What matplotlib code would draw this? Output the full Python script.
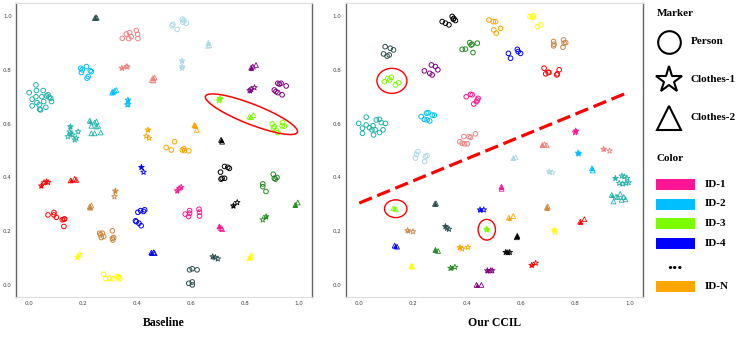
import matplotlib
matplotlib.use("Agg")
import matplotlib.pyplot as plt
from matplotlib.patches import Ellipse, Rectangle

# ---------------- colours ----------------
C = {
    "lightcoral": "#F08080", "lightblue": "#ADD8E6", "darkslategray": "#2F4F4F",
    "lightseagreen": "#20B2AA", "deepskyblue": "#00BFFF", "purple": "#800080",
    "lawngreen": "#7CFC00", "orange": "#FFA500", "black": "#000000",
    "blue": "#0000FF", "red": "#FF0000", "peru": "#CD853F", "deeppink": "#FF1493",
    "yellow": "#FFFF00", "green": "#228B22",
}

ticks = [0.0, 0.2, 0.4, 0.6, 0.8, 1.0]
tick_labels = ["0.0", "0.2", "0.4", "0.6", "0.8", "1.0"]
panel_titles = ["Baseline", "Our CCIL"]

# ---------------- Baseline: Person (circles) ----------------
base_person_colors = ["lightcoral", "lightblue", "deepskyblue", "lightseagreen", "purple",
                      "lawngreen", "orange", "black", "red", "peru", "blue", "yellow",
                      "deeppink", "darkslategray", "green"]
base_person_x = [
    [0.345, 0.360, 0.372, 0.369, 0.397, 0.402, 0.403, 0.378],
    [0.533, 0.549, 0.568, 0.574, 0.583, 0.570, 0.530],
    [0.190, 0.212, 0.226, 0.218, 0.214, 0.193, 0.196, 0.230],
    [-0.001, 0.024, 0.026, 0.010, 0.028, 0.051, 0.046, 0.063, 0.073, 0.082, 0.061, 0.038,
     0.036, 0.010, 0.024, 0.053, 0.069, 0.079, 0.041],
    [0.923, 0.929, 0.935, 0.954, 0.910, 0.923, 0.939, 0.916],
    [0.902, 0.907, 0.917, 0.923, 0.941, 0.947, 0.939, 0.910],
    [0.539, 0.508, 0.527, 0.568, 0.576, 0.592, 0.574],
    [0.710, 0.725, 0.737, 0.743, 0.712, 0.725, 0.716],
    [0.069, 0.091, 0.091, 0.100, 0.122, 0.128, 0.131, 0.128],
    [0.261, 0.264, 0.271, 0.276, 0.267, 0.308, 0.313, 0.310, 0.308],
    [0.394, 0.403, 0.413, 0.424, 0.428, 0.407, 0.415, 0.397],
    [0.276, 0.283, 0.325, 0.332, 0.310, 0.298, 0.335],
    [0.579, 0.591, 0.595, 0.595, 0.630, 0.632, 0.632],
    [0.595, 0.605, 0.623, 0.592, 0.605, 0.605],
    [0.867, 0.867, 0.879, 0.906, 0.910, 0.920, 0.914],
]
base_person_y = [
    [0.917, 0.933, 0.938, 0.916, 0.946, 0.932, 0.916, 0.923],
    [0.969, 0.950, 0.988, 0.983, 0.973, 0.977, 0.963],
    [0.806, 0.812, 0.797, 0.775, 0.769, 0.790, 0.800, 0.793],
    [0.715, 0.744, 0.723, 0.691, 0.678, 0.723, 0.700, 0.703, 0.698, 0.682, 0.661, 0.653,
     0.670, 0.666, 0.700, 0.682, 0.707, 0.694, 0.651],
    [0.750, 0.747, 0.750, 0.740, 0.725, 0.715, 0.707, 0.719],
    [0.599, 0.583, 0.574, 0.567, 0.604, 0.591, 0.591, 0.589],
    [0.533, 0.512, 0.502, 0.502, 0.500, 0.499, 0.507],
    [0.420, 0.441, 0.438, 0.434, 0.394, 0.397, 0.397],
    [0.261, 0.270, 0.261, 0.252, 0.243, 0.245, 0.246, 0.218],
    [0.193, 0.187, 0.193, 0.181, 0.177, 0.202, 0.177, 0.168, 0.174],
    [0.239, 0.271, 0.277, 0.274, 0.280, 0.230, 0.221, 0.236],
    [0.041, 0.024, 0.032, 0.030, 0.024, 0.026, 0.024],
    [0.264, 0.255, 0.277, 0.267, 0.282, 0.271, 0.257],
    [0.057, 0.061, 0.057, 0.007, 0.001, 0.012],
    [0.376, 0.366, 0.348, 0.412, 0.397, 0.400, 0.394],
]

# ---------------- Baseline: Clothes-1 (stars) ----------------
base_c1_colors = ["lightblue", "lightcoral", "deepskyblue", "lightseagreen", "purple",
                  "lawngreen", "orange", "blue", "red", "peru", "yellow", "deeppink",
                  "darkslategray", "black", "green"]
base_c1_x = [
    [0.567, 0.568, 0.567], [0.343, 0.360, 0.364], [0.366, 0.364, 0.367],
    [0.152, 0.150, 0.143, 0.153, 0.168, 0.181, 0.174, 0.160],
    [0.818, 0.824, 0.836], [0.709, 0.704, 0.707], [0.440, 0.434, 0.444],
    [0.416, 0.424], [0.044, 0.054, 0.063, 0.069], [0.319, 0.316], [0.178, 0.187],
    [0.549, 0.558, 0.564], [0.681, 0.691, 0.700], [0.758, 0.772], [0.879, 0.867],
]
base_c1_y = [
    [0.833, 0.812, 0.806], [0.806, 0.812, 0.811], [0.688, 0.670, 0.672],
    [0.589, 0.570, 0.552, 0.562, 0.540, 0.570, 0.546, 0.558],
    [0.723, 0.728, 0.734], [0.691, 0.686, 0.694], [0.577, 0.554, 0.546],
    [0.438, 0.420], [0.369, 0.381, 0.384, 0.382], [0.350, 0.329], [0.104, 0.114],
    [0.351, 0.360, 0.364], [0.106, 0.103, 0.098], [0.295, 0.307], [0.255, 0.243],
]

# ---------------- Baseline: Clothes-2 (triangles) ----------------
base_c2_colors = ["darkslategray", "lightblue", "lightcoral", "deepskyblue", "lightseagreen",
                  "purple", "lawngreen", "orange", "black", "red", "peru", "blue",
                  "deeppink", "yellow", "green"]
base_c2_x = [
    [0.243, 0.247, 0.250], [0.665, 0.669, 0.663], [0.459, 0.461, 0.455, 0.465],
    [0.310, 0.323, 0.307, 0.317],
    [0.224, 0.249, 0.230, 0.249, 0.255, 0.242, 0.230, 0.242, 0.265],
    [0.824, 0.842, 0.830], [0.818, 0.832, 0.824], [0.613, 0.622, 0.617],
    [0.712, 0.716], [0.153, 0.168, 0.174], [0.224, 0.230, 0.226],
    [0.453, 0.461, 0.465], [0.706, 0.712, 0.716], [0.820, 0.825, 0.817], [0.988, 0.997],
]
base_c2_y = [
    [0.992, 0.995, 0.993], [0.901, 0.892, 0.889], [0.769, 0.760, 0.762, 0.771],
    [0.719, 0.725, 0.715, 0.722],
    [0.611, 0.608, 0.592, 0.589, 0.592, 0.604, 0.564, 0.564, 0.567],
    [0.808, 0.818, 0.812], [0.626, 0.632, 0.624], [0.595, 0.577, 0.591],
    [0.540, 0.533], [0.389, 0.395, 0.391], [0.292, 0.296, 0.288],
    [0.121, 0.122, 0.119], [0.218, 0.212, 0.208], [0.104, 0.113, 0.100], [0.298, 0.307],
]

# ---------------- CCIL: Person (circles) ----------------
ccil_person_colors = ["black", "orange", "yellow", "darkslategray", "green", "blue", "peru",
                      "purple", "lawngreen", "red", "deeppink", "lightseagreen",
                      "deepskyblue", "lightcoral", "lightblue"]
ccil_person_x = [
    [0.307, 0.319, 0.332, 0.344, 0.348, 0.356, 0.350],
    [0.480, 0.496, 0.505, 0.498, 0.507, 0.523],
    [0.632, 0.641, 0.644, 0.659, 0.672],
    [0.096, 0.115, 0.127, 0.090, 0.103, 0.111],
    [0.381, 0.393, 0.409, 0.414, 0.418, 0.437, 0.421],
    [0.552, 0.560, 0.585, 0.588, 0.597],
    [0.719, 0.721, 0.719, 0.756, 0.764, 0.754, 0.758],
    [0.241, 0.267, 0.282, 0.291, 0.261, 0.270],
    [0.093, 0.106, 0.119, 0.134, 0.146, 0.113],
    [0.684, 0.690, 0.699, 0.702, 0.733, 0.740, 0.731],
    [0.396, 0.412, 0.418, 0.424, 0.437, 0.440, 0.434],
    [-0.002, 0.026, 0.026, 0.012, 0.012, 0.051, 0.047, 0.063, 0.075, 0.082, 0.097, 0.088,
     0.075, 0.053, 0.059, 0.038],
    [0.229, 0.249, 0.255, 0.270, 0.278, 0.241, 0.261, 0.251],
    [0.372, 0.381, 0.390, 0.400, 0.387, 0.406, 0.412, 0.430],
    [0.212, 0.217, 0.245, 0.251, 0.242, 0.208],
]
ccil_person_y = [
    [0.979, 0.973, 0.967, 0.998, 0.988, 0.983, 0.991],
    [0.985, 0.979, 0.979, 0.948, 0.936, 0.954],
    [0.998, 0.995, 1.000, 0.960, 0.967],
    [0.886, 0.880, 0.874, 0.859, 0.851, 0.855],
    [0.876, 0.877, 0.901, 0.892, 0.895, 0.899, 0.864],
    [0.861, 0.843, 0.876, 0.868, 0.861],
    [0.905, 0.895, 0.889, 0.911, 0.901, 0.884, 0.899],
    [0.796, 0.818, 0.812, 0.800, 0.787, 0.781],
    [0.756, 0.768, 0.772, 0.744, 0.752, 0.762],
    [0.806, 0.785, 0.791, 0.790, 0.785, 0.800, 0.781],
    [0.700, 0.709, 0.707, 0.673, 0.688, 0.694, 0.682],
    [0.601, 0.624, 0.595, 0.583, 0.564, 0.592, 0.577, 0.614, 0.616, 0.604, 0.601, 0.577,
     0.567, 0.558, 0.577, 0.585],
    [0.626, 0.639, 0.641, 0.632, 0.631, 0.616, 0.610, 0.614],
    [0.533, 0.527, 0.525, 0.525, 0.552, 0.552, 0.549, 0.562],
    [0.486, 0.496, 0.478, 0.481, 0.459, 0.472],
]

# ---------------- CCIL: Clothes-1 (stars) ----------------
ccil_c1_colors = ["deeppink", "lightcoral", "deepskyblue", "lightblue", "lightseagreen",
                  "yellow", "black", "red", "blue", "peru", "darkslategray", "lawngreen",
                  "orange", "green", "purple"]
ccil_c1_x = [
    [0.801, 0.799], [0.904, 0.926], [0.810, 0.812], [0.703, 0.715],
    [0.948, 0.972, 0.981, 0.991, 0.962, 0.975, 0.987, 0.997],
    [0.721, 0.724], [0.542, 0.550, 0.557], [0.638, 0.653], [0.447, 0.461],
    [0.179, 0.199], [0.319, 0.325, 0.332], [0.471, 0.473], [0.372, 0.381, 0.402],
    [0.338, 0.354], [0.474, 0.486, 0.492],
]
ccil_c1_y = [
    [0.573, 0.567], [0.505, 0.499], [0.491, 0.488], [0.422, 0.418],
    [0.397, 0.406, 0.403, 0.397, 0.379, 0.376, 0.379, 0.381],
    [0.205, 0.197], [0.122, 0.121, 0.122], [0.074, 0.082], [0.280, 0.280],
    [0.203, 0.199], [0.218, 0.212, 0.208], [0.208, 0.206], [0.140, 0.135, 0.141],
    [0.063, 0.067], [0.054, 0.054, 0.054],
]

# ---------------- CCIL: Clothes-2 (triangles) ----------------
ccil_c2_colors = ["lightcoral", "lightblue", "deepskyblue", "lightseagreen", "deeppink",
                  "peru", "orange", "red", "black", "lawngreen", "darkslategray", "blue",
                  "green", "yellow", "purple"]
ccil_c2_x = [
    [0.678, 0.686, 0.694], [0.570, 0.579], [0.861, 0.864],
    [0.934, 0.941, 0.950, 0.966, 0.971, 0.979, 0.985, 0.956],
    [0.526, 0.527], [0.694, 0.698], [0.554, 0.570], [0.818, 0.833], [0.585, 0.583],
    [0.127, 0.136], [0.280, 0.284], [0.131, 0.140], [0.282, 0.292], [0.193, 0.196],
    [0.434, 0.452],
]
ccil_c2_y = [
    [0.521, 0.523, 0.520], [0.472, 0.475], [0.434, 0.426],
    [0.335, 0.311, 0.329, 0.339, 0.317, 0.327, 0.319, 0.327],
    [0.366, 0.358], [0.288, 0.292], [0.251, 0.257], [0.236, 0.245], [0.183, 0.178],
    [0.286, 0.282], [0.302, 0.304], [0.147, 0.143], [0.131, 0.127], [0.073, 0.069],
    [0.001, 0.001],
]

# ---------------- annotations ----------------
base_ellipse = dict(center=(0.825, 0.635), width=0.367, height=0.075, angle=-21.4)
ccil_ellipses = [((0.121, 0.759), 0.111, 0.093), ((0.135, 0.284), 0.083, 0.066),
                 ((0.472, 0.206), 0.064, 0.077)]
ccil_line_x = [0.0, 0.98]
ccil_line_y = [0.305, 0.710]

legend_markers = [("o", "Person"), ("*", "Clothes-1"), ("^", "Clothes-2")]
legend_ids = [("deeppink", "ID-1"), ("deepskyblue", "ID-2"), ("lawngreen", "ID-3"),
              ("blue", "ID-4"), ("orange", "ID-N")]

# ---------------- drawing ----------------
W, H = 747, 338
fig = plt.figure(figsize=(W / 100, H / 100), dpi=100)
SERIF = ["Liberation Serif", "DejaVu Serif"]

axes = [fig.add_axes([16 / W, (H - 297.3) / H, 296 / W, 294 / H]),
        fig.add_axes([345.7 / W, (H - 297.3) / H, 297.3 / W, 294 / H])]


def draw_group(ax, xs_list, ys_list, colors, marker, size, lw, fill_first):
    for xs, ys, cname in zip(xs_list, ys_list, colors):
        col = C[cname]
        ax.scatter(xs, ys, s=size, marker=marker, facecolors="none",
                   edgecolors=col, linewidths=lw, zorder=3)
        if fill_first:
            ax.scatter(xs[:1], ys[:1], s=size, marker=marker, color=col,
                       linewidths=0, zorder=3)


panels = [
    (base_person_x, base_person_y, base_person_colors,
     base_c1_x, base_c1_y, base_c1_colors, base_c2_x, base_c2_y, base_c2_colors),
    (ccil_person_x, ccil_person_y, ccil_person_colors,
     ccil_c1_x, ccil_c1_y, ccil_c1_colors, ccil_c2_x, ccil_c2_y, ccil_c2_colors),
]

for ax, data, title in zip(axes, panels, panel_titles):
    px, py, pc, sx, sy, sc, tx, ty, tc = data
    draw_group(ax, px, py, pc, "o", 11, 0.7, False)
    draw_group(ax, sx, sy, sc, "*", 18, 0.6, True)
    draw_group(ax, tx, ty, tc, "^", 12, 0.6, True)
    ax.set_xlim(-0.05, 1.05)
    ax.set_ylim(-0.045, 1.047)
    ax.set_xticks(ticks)
    ax.set_xticklabels(tick_labels)
    ax.set_yticks(ticks)
    ax.set_yticklabels(tick_labels)
    ax.tick_params(length=0, labelsize=4, labelcolor="#444444", pad=3)
    for side in ("left", "right"):
        ax.spines[side].set_color("#666666")
        ax.spines[side].set_linewidth(1.0)
    for side in ("top", "bottom"):
        ax.spines[side].set_color("#dddddd")
        ax.spines[side].set_linewidth(0.8)
    ax.text(0.5, -0.088, title, transform=ax.transAxes, ha="center", va="center",
            family=SERIF, fontweight="bold", fontsize=8.5)

axes[0].add_patch(Ellipse(base_ellipse["center"], base_ellipse["width"],
                          base_ellipse["height"], angle=base_ellipse["angle"],
                          fill=False, edgecolor="red", lw=1.1, zorder=4))
for (cx, cy), w, h in ccil_ellipses:
    axes[1].add_patch(Ellipse((cx, cy), w, h, fill=False, edgecolor="red", lw=1.0, zorder=4))
axes[1].plot(ccil_line_x, ccil_line_y, color="red", lw=2.3,
             linestyle=(0, (4.3, 1.8)), zorder=4)

# ---------------- legend panel ----------------
lg = fig.add_axes([0, 0, 1, 1], facecolor="none")
lg.set_xlim(0, W)
lg.set_ylim(H, 0)
lg.axis("off")

lg.text(656.7, 14, "Marker", family=SERIF, fontweight="bold", fontsize=8,
        ha="left", va="center")
marker_rows = [41.7, 80, 118]
marker_sizes = {"o": 16.3, "*": 20, "^": 17}
for (m, label), yy in zip(legend_markers, marker_rows):
    lg.plot([668.7], [yy], marker=m, ms=marker_sizes[m], mfc="none", mec="black",
            mew=1.5, linestyle="none")
    lg.text(690.7, yy, label, family=SERIF, fontweight="bold", fontsize=8,
            ha="left", va="center")

lg.text(656.7, 158.3, "Color", family=SERIF, fontweight="bold", fontsize=8,
        ha="left", va="center")
id_rows = [184.3, 204, 223.3, 243.3, 286.7]
for (cname, label), yy in zip(legend_ids, id_rows):
    lg.add_patch(Rectangle((655.7, yy - 5.5), 39.3, 11, facecolor=C[cname],
                           edgecolor="none"))
    lg.text(704.3, yy, label, family=SERIF, fontweight="bold", fontsize=8,
            ha="left", va="center")
lg.text(675, 264, "...", family=SERIF, fontweight="bold", fontsize=15,
        ha="center", va="center")

fig.savefig("out.png", dpi=100)
